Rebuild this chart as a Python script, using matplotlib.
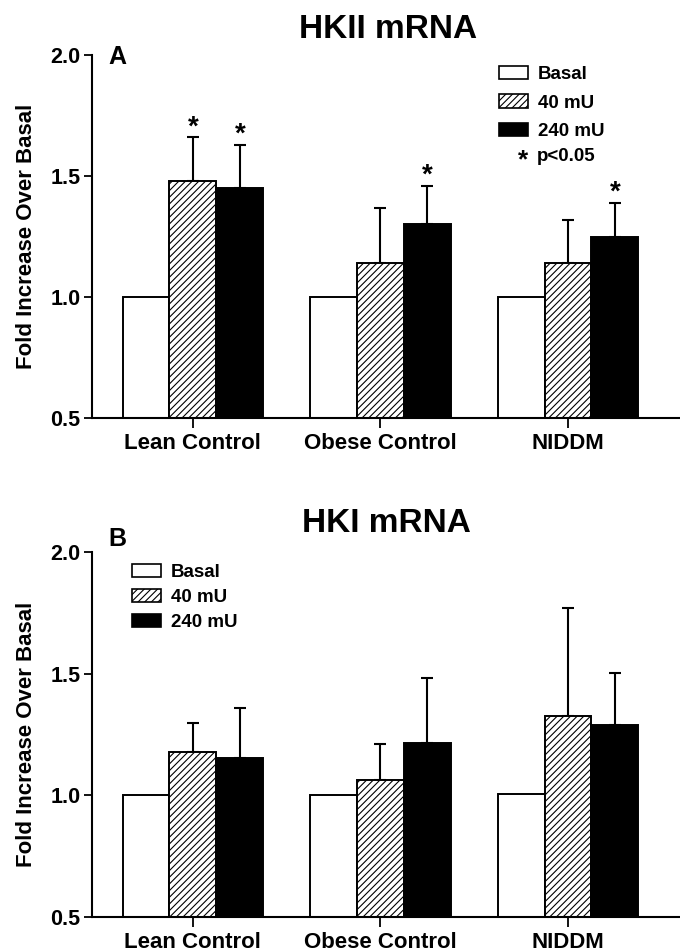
import matplotlib
matplotlib.use("Agg")
import matplotlib.pyplot as plt
import numpy as np
from matplotlib.patches import Patch

plt.rcParams['font.family'] = ['Liberation Sans', 'DejaVu Sans']
plt.rcParams['font.weight'] = 'bold'
plt.rcParams['axes.labelweight'] = 'bold'
plt.rcParams['hatch.linewidth'] = 0.8

groups = ["Lean Control", "Obese Control", "NIDDM"]
series = ["Basal", "40 mU", "240 mU"]

# Panel A: HKII mRNA
hk2_basal = [1.0, 1.0, 1.0]
hk2_40 = [1.48, 1.14, 1.14]
hk2_240 = [1.45, 1.30, 1.25]
hk2_40_err = [0.18, 0.23, 0.18]
hk2_240_err = [0.18, 0.16, 0.14]
hk2_40_sig = [True, False, False]
hk2_240_sig = [True, True, True]

# Panel B: HKI mRNA
hk1_basal = [1.0, 1.0, 1.005]
hk1_40 = [1.18, 1.065, 1.325]
hk1_240 = [1.155, 1.215, 1.29]
hk1_40_err = [0.12, 0.145, 0.445]
hk1_240_err = [0.205, 0.27, 0.215]

fig = plt.figure(figsize=(6.8, 9.52), dpi=100)
axA = fig.add_axes([0.135, 0.561, 0.865, 0.381])
axB = fig.add_axes([0.135, 0.0368, 0.865, 0.383])

w = 0.25
x = np.arange(len(groups))


def draw(ax, basal, v40, v240, e40, e240, sig40=None, sig240=None):
    ax.bar(x - w, basal, w, color='white', edgecolor='black', linewidth=1.4, zorder=2)
    ax.bar(x, v40, w, color='white', edgecolor='black', hatch='/////', linewidth=1.4, zorder=2)
    ax.bar(x + w, v240, w, color='black', edgecolor='black', linewidth=1.4, zorder=2)
    ax.errorbar(x, v40, yerr=[np.zeros(len(x)), e40], fmt='none', ecolor='black',
                elinewidth=1.5, capsize=4.3, capthick=1.5, zorder=1)
    ax.errorbar(x + w, v240, yerr=[np.zeros(len(x)), e240], fmt='none', ecolor='black',
                elinewidth=1.5, capsize=4.3, capthick=1.5, zorder=1)
    if sig40 is not None:
        for i in range(len(x)):
            if sig40[i]:
                ax.text(x[i], v40[i] + e40[i] - 0.012, "*", ha='center', va='bottom', fontsize=20)
            if sig240[i]:
                ax.text(x[i] + w, v240[i] + e240[i] - 0.012, "*", ha='center', va='bottom', fontsize=20)
    ax.set_ylim(0.5, 2.0)
    ax.set_xlim(-0.539, 2.597)
    ax.set_yticks([0.5, 1.0, 1.5, 2.0])
    ax.set_yticklabels(["0.5", "1.0", "1.5", "2.0"])
    ax.set_xticks(x)
    ax.set_xticklabels(groups, fontsize=16)
    ax.tick_params(axis='y', labelsize=15.5, length=6, width=1.3, direction='out', pad=2)
    ax.tick_params(axis='x', length=7, width=1.3, direction='out', pad=4)
    for s in ['top', 'right']:
        ax.spines[s].set_visible(False)
    for s in ['left', 'bottom']:
        ax.spines[s].set_linewidth(1.5)
    ax.set_ylabel("Fold Increase Over Basal", fontsize=16, labelpad=10)


draw(axA, hk2_basal, hk2_40, hk2_240, hk2_40_err, hk2_240_err, hk2_40_sig, hk2_240_sig)
draw(axB, hk1_basal, hk1_40, hk1_240, hk1_40_err, hk1_240_err)

handles = [Patch(facecolor='white', edgecolor='black', linewidth=1.2),
           Patch(facecolor='white', edgecolor='black', hatch='/////', linewidth=1.2),
           Patch(facecolor='black', edgecolor='black', linewidth=1.2)]

legA = axA.legend(handles, series, loc='upper left', bbox_to_anchor=(0.692, 0.97), frameon=False,
                  fontsize=13.5, handlelength=1.55, handleheight=0.7, handletextpad=0.55,
                  labelspacing=0.6, borderpad=0, borderaxespad=0)
axA.text(0.742, 0.71, "*", transform=axA.transAxes, ha='right', va='center', fontsize=19)
axA.text(0.757, 0.72, "p<0.05", transform=axA.transAxes, ha='left', va='center', fontsize=13.5)

legB = axB.legend(handles, series, loc='upper left', bbox_to_anchor=(0.068, 0.968), frameon=False,
                  fontsize=13.5, handlelength=1.55, handleheight=0.7, handletextpad=0.55,
                  labelspacing=0.42, borderpad=0, borderaxespad=0)

fig.text(388 / 680, 1 - 29 / 952, "HKII mRNA", ha='center', va='center', fontsize=24)
fig.text(108 / 680, 1 - 57 / 952, "A", ha='left', va='center', fontsize=18)
fig.text(386 / 680, 1 - 523 / 952, "HKI mRNA", ha='center', va='center', fontsize=24)
fig.text(108 / 680, 1 - 539 / 952, "B", ha='left', va='center', fontsize=18)

fig.savefig("out.png", dpi=100)
